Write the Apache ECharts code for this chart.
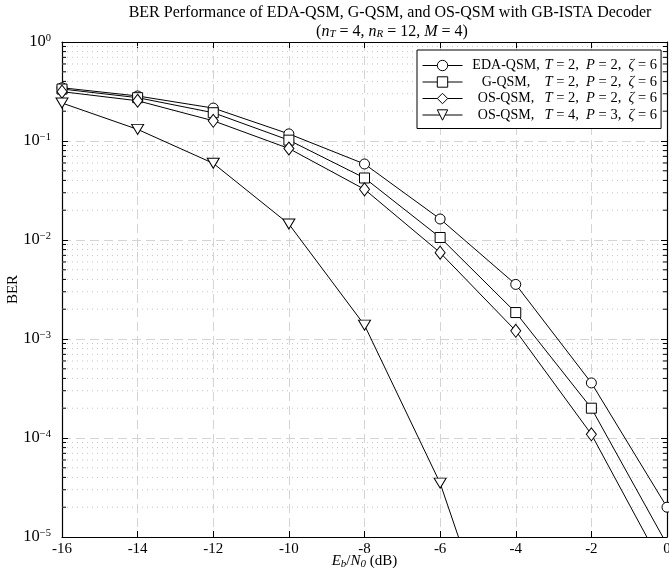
<!DOCTYPE html>
<html>
<head>
<meta charset="utf-8">
<script src="https://cdn.jsdelivr.net/npm/echarts@6/dist/echarts.min.js"></script>
<style>html,body{margin:0;padding:0;background:#fff;}#c{width:669px;height:568px;}</style>
</head>
<body>
<div id="c"></div>
<script>
// ---- data ----
const snr = [-16, -14, -12, -10, -8, -6, -4, -2, 0];
const berEDA = [0.345, 0.285, 0.215, 0.118, 0.0586, 0.0163, 0.00356, 3.6e-4, 2.0e-5];
const berG = [0.335, 0.274, 0.193, 0.102, 0.0423, 0.0106, 0.00185, 2.0e-4, 8.4e-6];
const berOS = [0.315, 0.255, 0.16, 0.084, 0.0325, 0.00745, 0.00121, 1.09e-4, 4.2e-6];
const snrOS4 = [-16, -14, -12, -10, -8, -6, -4];
const berOS4 = [0.242, 0.131, 0.0595, 0.0145, 0.00138, 3.5e-5, 2.0e-7];
const seriesNames = ['EDA-QSM', 'G-QSM', 'OS-QSM', 'OS-QSM '];
const seriesParams = [['2','2','6'], ['2','2','6'], ['2','2','6'], ['4','3','6']];
const minorDecades = [-5, -4, -3, -2, -1];
const minorMult = [2, 3, 4, 5, 6, 7, 8, 9];

const FONT = 'Liberation Serif';
const minorVals = [];
minorDecades.forEach(e => minorMult.forEach(m => minorVals.push([-16, m * Math.pow(10, e)])));

function zip(xs, ys) { return xs.map((x, i) => [x, ys[i]]); }

const mk = (name, data, symbol, size, rotate) => ({
  name: name, type: 'line', data: data, z: 5,
  symbol: symbol, symbolSize: size, symbolRotate: rotate || 0,
  showAllSymbol: true, clip: true,
  lineStyle: { color: '#000', width: 1 },
  itemStyle: { color: '#fff', borderColor: '#000', borderWidth: 1 },
  emphasis: { disabled: true }
});

const chart = echarts.init(document.getElementById('c'), null, { renderer: 'canvas' });
const option = {
  animation: false,
  backgroundColor: '#fff',
  title: [
    { text: 'BER Performance of EDA-QSM, G-QSM, and OS-QSM with GB-ISTA Decoder',
      left: 390, top: 5, textAlign: 'center', padding: 0,
      textStyle: { fontFamily: FONT, fontSize: 16, fontWeight: 'normal', color: '#000' } },
    { text: '{n|(}{i|n}{s|T}{n| = 4, }{i|n}{s|R}{n| = 12, }{i|M}{n| = 4)}',
      left: 392, top: 23, textAlign: 'center', padding: 0,
      textStyle: { fontFamily: FONT, fontSize: 16, fontWeight: 'normal', color: '#000',
        rich: {
          n: { fontFamily: FONT, fontSize: 16, color: '#000' },
          i: { fontFamily: FONT, fontSize: 16, fontStyle: 'italic', color: '#000' },
          s: { fontFamily: FONT, fontSize: 11, fontStyle: 'italic', color: '#000', padding: [6, 0, 0, 0] }
        } } }
  ],
  grid: { left: 62, right: 2, top: 42, bottom: 31, outerBoundsMode: 'none', containLabel: false },
  legend: {
    left: 417, top: 50, orient: 'vertical',
    backgroundColor: '#fff', borderColor: '#000', borderWidth: 1,
    padding: [8, 4, 6, 5], itemGap: 1.5, itemWidth: 40, itemHeight: 13,
    lineStyle: { width: 1, color: '#000' },
    itemStyle: { borderWidth: 1, borderColor: '#000', color: '#fff' },
    data: seriesNames,
    formatter: function (name) {
      const idx = seriesNames.indexOf(name);
      const p = seriesParams[idx];
      return '{a|' + name.trim() + ',}{i|T}{n| = ' + p[0] + ',  }{i|P}{n| = ' + p[1] + ',  }{i|ζ}{n| = ' + p[2] + '}';
    },
    textStyle: {
      fontFamily: FONT, fontSize: 14, color: '#000', lineHeight: 14,
      rich: {
        a: { fontFamily: FONT, fontSize: 14, width: 77, align: 'center', color: '#000' },
        n: { fontFamily: FONT, fontSize: 14.5, color: '#000' },
        i: { fontFamily: FONT, fontSize: 14.5, fontStyle: 'italic', color: '#000' }
      }
    }
  },
  xAxis: [
    { type: 'value', min: -16, max: 0, interval: 2, position: 'bottom',
      name: '{i|E}{s|b}{n|/}{i|N}{s|0}{n| (dB)}', nameLocation: 'middle', nameGap: 16,
      nameMoveOverlap: false,
      nameTextStyle: { fontFamily: FONT, fontSize: 15, color: '#000',
        rich: {
          n: { fontFamily: FONT, fontSize: 15, color: '#000' },
          i: { fontFamily: FONT, fontSize: 15, fontStyle: 'italic', color: '#000' },
          s: { fontFamily: FONT, fontSize: 11, fontStyle: 'italic', color: '#000', padding: [6, 0, 0, 0] }
        } },
      axisLine: { show: true, onZero: false, lineStyle: { color: '#000', width: 1.2 } },
      axisTick: { show: true, inside: true, length: 6, lineStyle: { color: '#000' } },
      axisLabel: { fontFamily: FONT, fontSize: 15, color: '#000', margin: 5,
        formatter: v => String(v) },
      splitLine: { show: true, lineStyle: { color: '#d4d4d4', width: 1, type: [9, 5] } }
    },
    { type: 'value', min: -16, max: 0, interval: 2, position: 'top',
      axisLine: { show: true, onZero: false, lineStyle: { color: '#000', width: 1.2 } },
      axisTick: { show: true, inside: true, length: 6, lineStyle: { color: '#000' } },
      axisLabel: { show: false }, splitLine: { show: false }
    }
  ],
  yAxis: [
    { type: 'log', logBase: 10, min: 1e-5, max: 1, position: 'left',
      name: 'BER', nameLocation: 'middle', nameGap: 41, nameRotate: 90,
      nameMoveOverlap: false,
      nameTextStyle: { fontFamily: FONT, fontSize: 15, color: '#000' },
      axisLine: { show: true, onZero: false, lineStyle: { color: '#000', width: 1.2 } },
      axisTick: { show: true, inside: true, length: 6, lineStyle: { color: '#000' } },
      minorTick: { show: false }, minorSplitLine: { show: false },
      axisLabel: { color: '#000', margin: 11,
        formatter: function (v) {
          const e = Math.round(Math.log10(v));
          return '{b|10}{s|' + (e === 0 ? '0' : '−' + (-e)) + '}';
        },
        rich: { b: { fontFamily: FONT, fontSize: 16.5, color: '#000' },
                s: { fontFamily: FONT, fontSize: 10.5, color: '#000', padding: [0, 0, 7, 0] } } },
      splitLine: { show: true, lineStyle: { color: '#d4d4d4', width: 1, type: [9, 5] } }
    },
    { type: 'log', logBase: 10, min: 1e-5, max: 1, position: 'right',
      axisLine: { show: true, onZero: false, lineStyle: { color: '#000', width: 1.2 } },
      axisTick: { show: true, inside: true, length: 6, lineStyle: { color: '#000' } },
      axisLabel: { show: false }, splitLine: { show: false }
    }
  ],
  series: [
    {
      name: 'minor', type: 'custom', z: 1, silent: true, clip: false,
      data: minorVals,
      encode: { x: 0, y: 1 },
      renderItem: function (params, api) {
        const p = api.coord([-16, api.value(1)]);
        const q = api.coord([0, api.value(1)]);
        return { type: 'group', children: [
          { type: 'line', shape: { x1: p[0], y1: p[1], x2: q[0], y2: q[1] },
            style: { stroke: '#c4c4c4', lineWidth: 1, lineDash: [1, 4] } },
          { type: 'line', shape: { x1: p[0], y1: p[1], x2: p[0] + 4, y2: p[1] },
            style: { stroke: '#000', lineWidth: 1 } },
          { type: 'line', shape: { x1: q[0] - 4, y1: q[1], x2: q[0], y2: q[1] },
            style: { stroke: '#000', lineWidth: 1 } }
        ] };
      }
    },
    mk(seriesNames[0], zip(snr, berEDA), 'circle', 10),
    mk(seriesNames[1], zip(snr, berG), 'rect', 10),
    mk(seriesNames[2], zip(snr, berOS), 'diamond', [10, 13]),
    mk(seriesNames[3], zip(snrOS4, berOS4), 'triangle', [12, 10], 180)
  ]
};
chart.setOption(option);
</script>
</body>
</html>
